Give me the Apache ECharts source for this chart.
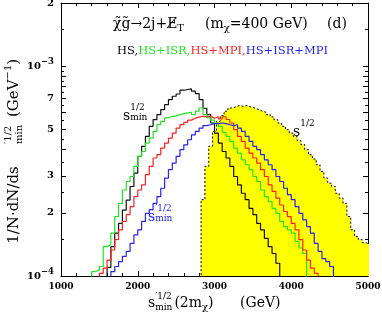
<!DOCTYPE html>
<html><head><meta charset="utf-8">
<script src="https://cdn.jsdelivr.net/npm/echarts@6/dist/echarts.min.js"></script>
<style>html,body{margin:0;padding:0;background:#fff}#c{width:382px;height:316px}</style>
</head><body><div id="c"></div>
<script>
// ---- data (values in units of 1e-4 GeV^-1, 50 GeV bins, first bin left edge given) ----
const binWidth = 50;
const hsStart = 1600;
const hsE4 = [1.1,1.38,1.6,1.78,2.06,2.3,2.67,3.09,3.72,4.15,4.63,5.17,5.56,5.88,6.21,6.56,6.93,7.19,7.37,7.68,7.74,7.79,7.6,7.4,6.93,6.3,5.88,5.36,4.8,4.3,3.92,3.65,3.33,2.98,2.72,2.48,2.31,2.1,1.96,1.78,1.66,1.51,1.38,1.28,1.15];
const isrStart = 1400;
const isrE4 = [1.05,1.07,1.11,1.38,1.41,1.6,1.92,2.22,2.57,2.82,2.98,3.33,3.72,3.92,4.3,4.54,4.89,5.26,5.46,5.67,5.77,5.8,5.88,5.94,5.99,6.03,5.88,6.1,6.32,5.88,5.67,5.53,5.36,5.17,4.84,4.63,4.38,4.07,3.85,3.58,3.39,3.21,2.98,2.82,2.57,2.39,2.26,2.1,1.99,1.82,1.72,1.66,1.6,1.46,1.36,1.28];
const mpiStart = 1500;
const mpiE4 = [1.03,1.09,1.19,1.33,1.49,1.66,1.82,1.96,2.14,2.39,2.57,2.72,3.04,3.33,3.65,3.79,4.07,4.3,4.54,4.8,5.07,5.26,5.4,5.53,5.65,5.72,5.77,5.74,5.77,5.65,5.74,5.61,5.74,5.57,5.36,4.98,4.63,4.38,4.07,3.85,3.65,3.45,3.21,2.98,2.72,2.53,2.35,2.18,2.03,1.92,1.78,1.66,1.49,1.33,1.19,1.09,1.03];
const isrMpiStart = 1650;
const isrMpiE4 = [1.05,1.11,1.17,1.24,1.31,1.43,1.57,1.66,1.82,1.99,2.07,2.22,2.39,2.62,2.93,3.21,3.45,3.72,4.0,4.22,4.46,4.71,4.89,5.07,5.21,5.26,5.32,5.32,5.36,5.32,5.26,5.21,5.26,5.07,4.89,4.63,4.38,4.15,4.0,3.79,3.58,3.39,3.21,2.98,2.82,2.62,2.44,2.31,2.14,1.99,1.85,1.72,1.6,1.43,1.31,1.21,1.17,1.11];
const sStart = 2825;
const sE4 = [2.31,3.33,4.15,4.89,5.46,5.81,6.10,6.32,6.39,6.49,6.44,6.49,6.39,6.32,6.21,6.10,6.03,5.88,5.73,5.56,5.36,5.17,4.98,4.80,4.63,4.43,4.23,4.0,3.78,3.61,3.39,3.15,2.93,2.77,2.67,2.48,2.35,2.22,1.92,1.66,1.54,1.49,1.44,1.41];

const xMin = 1000, xMax = 5000, xStep = 1000;
const yMin = 1e-4, yMax = 2e-3;
const yLabelValues = [1e-4,2e-4,3e-4,5e-4,7e-4,1e-3,2e-3];
const yMajorTicks = [1e-4,2e-4,3e-4,4e-4,5e-4,6e-4,7e-4,8e-4,9e-4,1e-3,2e-3];
const yMinorTicks = [1.5e-4,2.5e-4,3.5e-4,4.5e-4,5.5e-4,6.5e-4,7.5e-4,8.5e-4,9.5e-4,1.5e-3];

const C = {k:'#111111', g:'#22e422', r:'#ff2020', b:'#2424f0', y:'#ffff00'};
const SERIF = '"DejaVu Serif"';
const FLOOR = 5e-5;

function stepData(start, vals){
  const pts = [[start, FLOOR]];
  vals.forEach((v,i)=>pts.push([start + i*binWidth, v*1e-4]));
  const end = start + vals.length*binWidth;
  pts.push([end, vals[vals.length-1]*1e-4]);
  pts.push([end, FLOOR]);
  return pts;
}
const L = v => Math.log10(v);

// ---- text helpers ----
const mctx = document.createElement('canvas').getContext('2d');
function tw(t, s){ mctx.font = s + 'px ' + SERIF; return mctx.measureText(t).width; }
function run(x0, y0, parts, fill){
  let x = x0, prevX = x0, prevW = 0; const els = [];
  parts.forEach(p=>{
    const w = tw(p.t, p.s); let px;
    if (p.stack){ px = prevX; prevW = Math.max(prevW, w); x = prevX + prevW; }
    else { px = (p.at !== undefined) ? p.at : x + (p.gap||0); prevX = px; prevW = w; x = px + w; }
    els.push({type:'text', x:px, y:y0 + (p.dy||0), silent:true,
      style:{text:p.t, font:p.s + 'px ' + SERIF, fill:p.fill||fill, align:'left', verticalAlign:'middle'}});
  });
  return els;
}

const graphics = [];
// title
graphics.push(...run(113, 24, [
  {t:'χ̃g̃→2j+E̸', s:14}, {t:'T', s:10, dy:4},
  {t:'(m', s:14, at:205}, {t:'χ', s:10, dy:4}, {t:'=400 GeV)', s:14},
  {t:'(d)', s:14, at:327}
], '#000'));
// legend line
graphics.push({type:'text', x:117, y:51, silent:true, style:{
  text:'{k|HS,}{g|HS+ISR,}{r|HS+MPI,}{b|HS+ISR+MPI}', font:'11.5px ' + SERIF, align:'left', verticalAlign:'middle',
  rich:{k:{fill:'#000', font:'11.5px ' + SERIF}, g:{fill:C.g, font:'11.5px ' + SERIF}, r:{fill:C.r, font:'11.5px ' + SERIF}, b:{fill:C.b, font:'11.5px ' + SERIF}}
}});
// curve labels
graphics.push(...run(123, 116, [{t:'s', s:14}, {t:'1/2', s:9, dy:-8}, {t:'min', s:9, dy:2, stack:true}], '#000'));
graphics.push(...run(148, 217, [{t:'s', s:14}, {t:'′1/2', s:9, dy:-8}, {t:'min', s:9, dy:2, stack:true}], C.b));
graphics.push(...run(293, 132, [{t:'s', s:14}, {t:'1/2', s:9, dy:-8}], '#000'));
// x axis title
graphics.push(...run(148, 303, [
  {t:'s', s:14}, {t:'′1/2', s:9, dy:-6}, {t:'min', s:9, dy:5, stack:true},
  {t:'(2m', s:14, gap:2}, {t:'χ', s:10, dy:4}, {t:')', s:14}, {t:'(GeV)', s:14, at:240}
], '#000'));
// y axis title (rotated)
const yt = [];
const wA = tw('1/N·dN/ds', 15);
yt.push(...run(65 - wA/2, 0, [{t:'1/N·dN/ds', s:15}], '#000'));
yt.push(...run(126, 0, [{t:'′1/2', s:10, dy:-6}, {t:'min', s:10, dy:5, stack:true}], '#000'));
yt.push(...run(153, 0, [{t:'(GeV', s:15}, {t:'−1', s:10, dy:-6}, {t:')', s:15}], '#000'));
graphics.push({type:'group', x:14.5, y:270, rotation:Math.PI/2, children:yt});

const tickFont = {fontFamily:SERIF, fontWeight:'bold', color:'#000'};
function yOverlay(position, values, len, withLabels){
  return {
    type:'value', position, min:L(yMin), max:L(yMax), gridIndex:0,
    axisLine:{show:false}, splitLine:{show:false},
    axisTick:{show:true, inside:true, length:len, customValues:values.map(L), lineStyle:{color:'#000', width:1}},
    axisLabel: withLabels ? {
      show:true, customValues:yLabelValues.map(L), margin:7, showMinLabel:true, showMaxLabel:true,
      formatter:(v)=>{
        const e = Math.floor(v + 1e-9); const m = Math.round(Math.pow(10, v - e));
        if (m === 1) return '{b|10}{s|−' + (-e) + '}';
        return '{d|' + m + '}';
      },
      rich:{
        b:{...tickFont, fontSize:10, lineHeight:18, verticalAlign:'middle'},
        s:{...tickFont, fontSize:8.5, lineHeight:8, verticalAlign:'top'},
        d:{...tickFont, fontSize:10, lineHeight:18, verticalAlign:'middle'}
      }
    } : {show:false}
  };
}

const xCommon = {
  type:'value', min:xMin, max:xMax, interval:xStep, splitLine:{show:false},
  axisLine:{show:true, lineStyle:{color:'#000', width:1}},
  axisTick:{show:true, inside:true, length:5, lineStyle:{color:'#000'}},
  minorTick:{show:true, splitNumber:5, length:3, lineStyle:{color:'#000'}}
};

function lineSeries(name, start, vals, color, z){
  return {name, type:'line', step:'end', data:stepData(start, vals), symbol:'none', showSymbol:false,
    xAxisIndex:0, yAxisIndex:0, clip:true, z, lineStyle:{color, width:1.2}, emphasis:{disabled:true}};
}

const chart = echarts.init(document.getElementById('c'), null, {renderer:'canvas', width:382, height:316});
chart.setOption({
  animation:false,
  backgroundColor:'#fff',
  grid:{left:61, right:14, top:3, bottom:40, containLabel:false, outerBoundsMode:'none'},
  xAxis:[
    {...xCommon, position:'bottom', axisLabel:{show:true, ...tickFont, fontSize:9, margin:6, showMinLabel:true, showMaxLabel:true,
      formatter:(v)=>String(v)}},
    {...xCommon, position:'top', axisLabel:{show:false}}
  ],
  yAxis:[
    {type:'log', logBase:10, min:yMin, max:yMax, position:'left',
     axisLine:{show:true, lineStyle:{color:'#000', width:1}}, axisTick:{show:false}, axisLabel:{show:false},
     splitLine:{show:false}, minorTick:{show:false}},
    yOverlay('left', yMajorTicks, 5, true),
    yOverlay('left', yMinorTicks, 3, false),
    Object.assign(yOverlay('right', yMajorTicks, 5, false), {axisLine:{show:true, lineStyle:{color:'#000', width:1}}}),
    yOverlay('right', yMinorTicks, 3, false)
  ],
  series:[
    {name:'s^1/2', type:'line', step:'end', data:stepData(sStart, sE4), symbol:'none', showSymbol:false,
     xAxisIndex:0, yAxisIndex:0, clip:true, z:1,
     lineStyle:{color:'#000', width:1, type:[2,2]},
     areaStyle:{color:C.y, opacity:1, origin:'start'}, emphasis:{disabled:true}},
    lineSeries('HS', hsStart, hsE4, C.k, 3),
    lineSeries('HS+ISR', isrStart, isrE4, C.g, 3),
    lineSeries('HS+MPI', mpiStart, mpiE4, C.r, 3),
    lineSeries('HS+ISR+MPI', isrMpiStart, isrMpiE4, C.b, 3)
  ],
  graphic:graphics
});
</script></body></html>
